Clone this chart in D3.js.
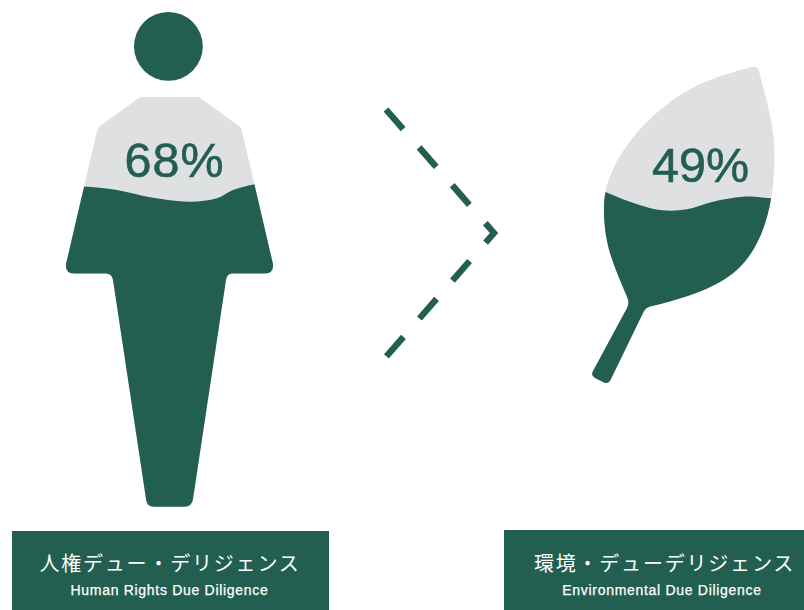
<!DOCTYPE html>
<html>
<head>
<meta charset="utf-8">
<script src="https://cdnjs.cloudflare.com/ajax/libs/d3/7.8.5/d3.min.js"></script>
<style>
html,body{margin:0;padding:0;background:#fff}
svg{display:block}
</style>
</head>
<body>
<svg id="chart" width="804" height="610"></svg>
<script>
// Share of companies carrying out each kind of due diligence
const categories = ["人権デュー・デリジェンス", "環境・デューデリジェンス"];
const subtitles = ["Human Rights Due Diligence", "Environmental Due Diligence"];
const values = [68, 49];

const GREEN = "#225f50", GREY = "#dfe0e2";

// Icon outlines
const personOutline = "M142 97 L197 97 Q199 97 201 98.5 L239 126 Q241.5 128 242 131 L273 264 Q274 273.5 265 273.5 L232 273.5 Q227 273.5 226 280 L193 499 Q192 506.8 184 506.8 L154 506.8 Q146.5 506.8 146 499 L113 280 Q112 273.5 106 273.5 L74 273.5 Q65 273.5 66 264 L97 131 Q97.5 128 100 126 L138 98.5 Q140 97 142 97 Z";
const leafOutline = "M750 67.5 Q757 65 759 71 C763 90 775 120 774.5 160 C774 205 763 243 741 266 C721 287 686 298 650 306.5 Q646 307.5 644 311 L611 379 Q608.5 384.5 604 382.5 L595 378 Q590.5 375.5 593 371 L627 308 Q629.5 303 627.5 298 C615 268 603 245 604 205 C605 165 640 125 665 106 C695 82 720 76 750 67.5 Z";

// Liquid surface of each icon: x along the icon, ripple relative to the fill level
const personWave = [[40,-7],[60,-7],[83,-6.5],[117,-3],[150,4.3],[190,8.7],[217,5.3],[233,-3],[255,-8.7],[275,-11],[300,-11]];
const leafWave = [[590,-14],[606,-7.7],[630,1.7],[660,10],[687,9.3],[713,1.7],[743,-3.3],[772,-1.7],[790,-1]];

// Fill level of each icon, one scale per silhouette
const personLevel = d3.scaleLinear().domain([0, 100]).range([400, 95.6]);
const leafLevel = d3.scaleLinear().domain([0, 100]).range([330, 64.7]);

const svg = d3.select("#chart");
const defs = svg.append("defs");

function liquidIcon(id, outline, wave, level, value, bottom, labelX, labelY, spacing) {
  const yLevel = level(value);
  const area = d3.area()
    .x(d => d[0])
    .y0(bottom)
    .y1(d => yLevel + d[1])
    .curve(d3.curveCatmullRom.alpha(0.5));
  defs.append("clipPath").attr("id", id).append("path").attr("d", area(wave));
  const g = svg.append("g");
  g.append("path").attr("d", outline).attr("fill", GREY);
  g.append("path").attr("d", outline).attr("fill", GREEN).attr("clip-path", `url(#${id})`);
  g.append("text")
    .attr("x", labelX).attr("y", labelY)
    .attr("text-anchor", "middle")
    .attr("font-family", "'Liberation Sans', Arial, sans-serif")
    .attr("font-size", 48.5)
    .attr("letter-spacing", spacing)
    .attr("fill", GREEN)
    .attr("stroke", GREEN)
    .attr("stroke-width", 0.6)
    .text(value + "%");
}

svg.append("circle").attr("cx", 168.4).attr("cy", 46.4).attr("r", 34.4).attr("fill", GREEN);
liquidIcon("fill-person", personOutline, personWave, personLevel, values[0], 520, 174.5, 177, 1);
liquidIcon("fill-leaf", leafOutline, leafWave, leafLevel, values[1], 400, 700.5, 182, 0);

// Dashed chevron between the two icons
svg.append("path")
  .attr("d", d3.line()([[386, 109.5], [494, 233], [385, 358]]))
  .attr("fill", "none")
  .attr("stroke", GREEN)
  .attr("stroke-width", 6.4)
  .attr("stroke-dasharray", "26 24.3")
  .attr("stroke-linejoin", "miter");

// Caption boxes
const boxes = [
  {x: 12, y: 531, w: 317, h: 79, tx: 170, sx: 169.5},
  {x: 504, y: 530, w: 300, h: 80, tx: 664.5, sx: 662}
];
boxes.forEach((b, i) => {
  svg.append("rect").attr("x", b.x).attr("y", b.y).attr("width", b.w).attr("height", b.h).attr("fill", GREEN);
  svg.append("text")
    .attr("x", b.tx).attr("y", 571)
    .attr("text-anchor", "middle")
    .attr("font-family", "'Noto Sans CJK JP', sans-serif")
    .attr("font-weight", 400)
    .attr("font-size", 20)
    .attr("letter-spacing", 1.8)
    .attr("fill", "#fff")
    .text(categories[i]);
  svg.append("text")
    .attr("x", b.sx).attr("y", 595)
    .attr("text-anchor", "middle")
    .attr("font-family", "'Liberation Sans', Arial, sans-serif")
    .attr("font-size", 14)
    .attr("letter-spacing", 0.7)
    .attr("fill", "#fff")
    .attr("stroke", "#fff")
    .attr("stroke-width", 0.25)
    .text(subtitles[i]);
});
</script>
</body>
</html>
